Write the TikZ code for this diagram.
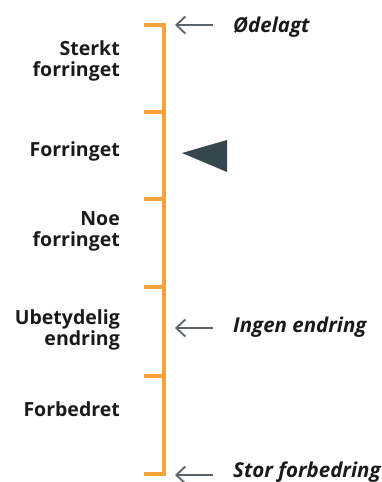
\documentclass[tikz,border=0pt]{standalone}
\usepackage{fontspec}
\setmainfont{Open Sans}
\usetikzlibrary{arrows.meta}
\definecolor{scaleorange}{HTML}{F4A33C}
\definecolor{slate}{HTML}{37474F}
\definecolor{arrowgray}{HTML}{5A646B}
\definecolor{txt}{HTML}{1A1A1A}
\begin{document}
\begin{tikzpicture}[x=1pt,y=1pt,
  scale line/.style={draw=scaleorange, line width=3.2pt},
  leftlabel/.style={align=right, font=\fontsize{19.5}{21}\selectfont\bfseries, text=txt, inner sep=0pt},
  rightlabel/.style={anchor=base west, font=\fontsize{20.5}{22}\selectfont\bfseries\itshape, text=txt, inner sep=0pt},
  pointer/.style={draw=arrowgray, line width=1.8pt, -{Straight Barb[length=9pt,width=17pt]}}]
\useasboundingbox (0,0) rectangle (382,482);
% scale
\coordinate (top) at (164,457);
\coordinate (bot) at (164,8);
\draw[scale line] (144,457) -- (top) -- (bot) -- (144,8);
\foreach \y in {370,283,195,106}
  \draw[scale line] (144,\y) -- (164,\y);
% left labels
\node[leftlabel, anchor=east] (l1) at (120,421.5) {Sterkt\\forringet};
\node[leftlabel, anchor=base east] (l2) at (120,325) {Forringet};
\node[leftlabel, anchor=east] (l3) at (120,250.5) {Noe\\forringet};
\node[leftlabel, anchor=east] (l4) at (120,152.5) {Ubetydelig\\endring};
\node[leftlabel, anchor=base east] (l5) at (120,65) {Forbedret};
% right labels with pointers
\node[rightlabel] (r1) at (233,449) {Ødelagt};
\node[rightlabel] (r2) at (233,149) {Ingen endring};
\node[rightlabel] (r3) at (233,4.5) {Stor forbedring};
\coordinate (p1) at (175,457);
\coordinate (p2) at (175,154);
\coordinate (p3) at (175,7);
\draw[pointer] (213,457) -- (p1);
\draw[pointer] (213,154) -- (p2);
\draw[pointer] (213,7) -- (p3);
% triangle marker
\fill[slate] (182,329) -- (227,342) -- (227,310) -- cycle;
\end{tikzpicture}
\end{document}
